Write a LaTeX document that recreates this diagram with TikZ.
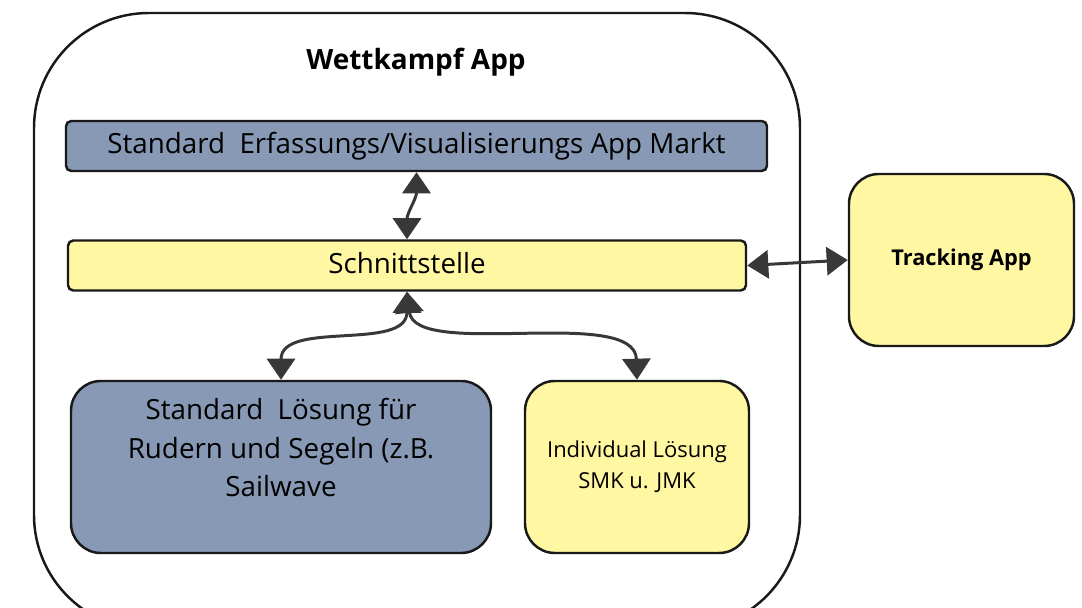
\documentclass[tikz,border=0pt]{standalone}
\usepackage{fontspec}
\setmainfont{Open Sans}
\usepackage{tikz}
\usetikzlibrary{arrows.meta}

\definecolor{boxblue}{HTML}{8799B4}
\definecolor{boxyellow}{HTML}{FFF7A1}
\definecolor{linkgray}{HTML}{383838}

\begin{document}
\begin{tikzpicture}[
                    box/.style={draw=black!90, line width=1.4pt, rounded corners=3pt,
                                minimum width=#1, minimum height=1cm, inner sep=0pt,
                                font=\fontsize{15.8}{22}\selectfont},
                    tile/.style={draw=black!90, line width=1.4pt, rounded corners=17pt,
                                 minimum width=#1, minimum height=3.44cm, align=center},
                    link/.style={{Triangle[width=16pt,length=12pt]}-{Triangle[width=16pt,length=12pt]},
                                 draw=linkgray, line width=1.7pt}
                ]
                \useasboundingbox (0,0) rectangle (21.64,-12.16);
                \clip (0,0) rectangle (21.64,-12.16);

                % outer frame, runs off the bottom edge
                \draw[line width=1.4pt, black!90, rounded corners=2.3cm] (0.68,-0.26) rectangle (16.0,-12.6);
                \node[font=\fontsize{15.9}{18}\selectfont\bfseries] (title) at (8.32,-1.24) {Wettkampf App};

                \node[box=14.02cm, fill=boxblue] (markt) at (8.33,-2.92) {Standard\ \ Erfassungs/Visualisierungs App Markt};
                \node[box=13.56cm, fill=boxyellow] (sch) at (8.14,-5.31) {\raisebox{3pt}{Schnittstelle}};

                \node[tile=8.4cm, fill=boxblue, font=\fontsize{15.8}{22}\selectfont] (std) at (5.62,-9.34)
                    {Standard\ \ Lösung für\\Rudern und Segeln (z.B.\\Sailwave\\ \mbox{}};
                \node[tile=4.48cm, fill=boxyellow, font=\fontsize{12.5}{17.6}\selectfont] (ind) at (12.74,-9.34)
                    {Individual Lösung\\SMK u. JMK};
                \node[tile=4.5cm, fill=boxyellow, font=\fontsize{12.4}{14}\selectfont\bfseries] (track) at (19.23,-5.2)
                    {Tracking App};

                % connectors
                \draw[link] (sch.north) to[out=90, in=-90] (markt.south);
                \draw[link] (sch.south) to[out=-90, in=90] (std.north);
                \draw[link] (sch.south) .. controls (8.3,-7.2) and (12.7,-6.1) .. (ind.north);
                \draw[link] (sch.east) -- (track.west);
            \end{tikzpicture}
\end{document}
